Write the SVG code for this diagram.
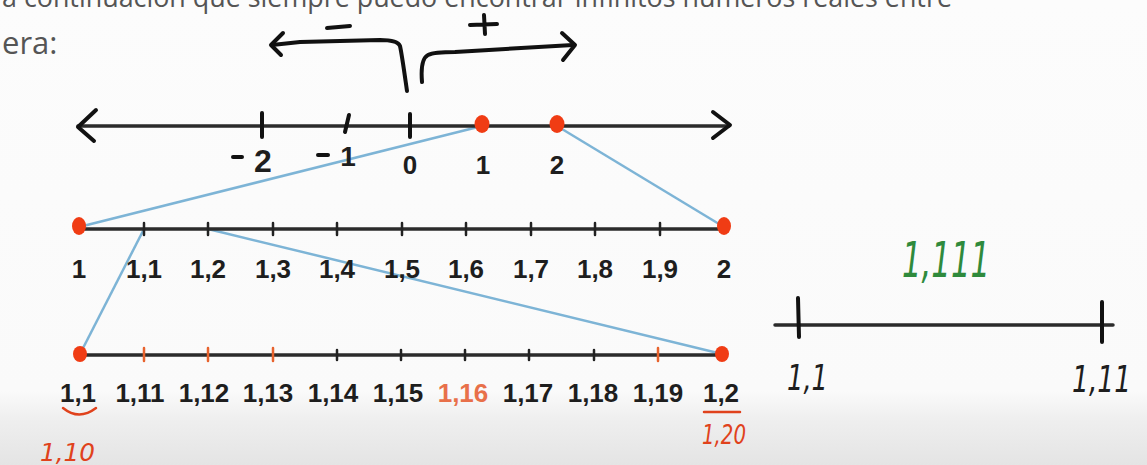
<svg xmlns="http://www.w3.org/2000/svg" width="1147" height="465" viewBox="0 0 1147 465">
<defs>
<linearGradient id="bg" x1="0" y1="0" x2="0" y2="1">
<stop offset="0" stop-color="#fcfcfc"/>
<stop offset="0.84" stop-color="#fafafa"/>
<stop offset="0.9" stop-color="#efefef"/>
<stop offset="1" stop-color="#e4e4e4"/>
</linearGradient>
<style>
.axis{stroke:#2b2b2b;stroke-width:3.5;fill:none;stroke-linecap:round}
.tick{stroke:#222;stroke-width:2.5;fill:none;stroke-linecap:round}
.otick{stroke:#e8632e;stroke-width:2.5;fill:none;stroke-linecap:round}
.hand{stroke:#111;stroke-width:4;fill:none;stroke-linecap:round;stroke-linejoin:round}
.redhand{stroke:#e0421c;stroke-width:2.5;fill:none;stroke-linecap:round}
.dot{fill:#f03c14}
.blue{stroke:#7db4d6;stroke-width:2.5;fill:none}
.lbl{font-family:"Liberation Sans",Arial,sans-serif;font-weight:bold;font-size:26px;fill:#1e1e1e;text-anchor:middle}
.hw{font-family:"DejaVu Sans","Liberation Sans",sans-serif;font-style:italic}
.para{font-family:"Open Sans","Liberation Sans",sans-serif;font-size:28px;fill:#555}
</style>
</defs>
<rect x="0" y="0" width="1147" height="465" fill="url(#bg)"/>

<g id="paragraph">
<text class="para" x="2" y="7" textLength="950" lengthAdjust="spacingAndGlyphs">a continuación que siempre puedo encontrar infinitos números reales entre</text>
<text class="para" x="2" y="54" style="font-size:31px">era:</text>
</g>

<g id="sign-arrows">
<path class="hand" d="M407,91 C404,70 402,55 400,46 C398,41 390,40 380,40 L300,42 L272,45"/>
<path class="hand" d="M283,33 L271,45 L281,55"/>
<path class="hand" d="M422,82 C421,70 422,58 428,55 C434,52 445,52 455,52 L573,45"/>
<path class="hand" d="M562,33 L575,45 L563,60"/>
<path class="hand" d="M327,28 L350,26"/>
<path class="hand" d="M470,25 L497,24 M484,15 L485,34"/>
</g>

<g id="connectors">
<line class="blue" x1="482" y1="126" x2="79" y2="227"/>
<line class="blue" x1="557" y1="126" x2="724" y2="227"/>
<line class="blue" x1="144" y1="229" x2="80" y2="354"/>
<line class="blue" x1="208" y1="229" x2="722" y2="354"/>
</g>

<g id="axis-integers">
<line class="axis" x1="78" y1="126" x2="729" y2="126"/>
<path class="hand" d="M96,110 L78,127 L94,141"/>
<path class="hand" d="M713,112 L730,125 L713,138"/>
<path class="hand" d="M262,113 L262,137"/>
<path class="hand" d="M349,115 L345,132"/>
<path class="hand" d="M410,114 L410,137"/>
<ellipse class="dot" cx="482" cy="124" rx="7.5" ry="9"/>
<ellipse class="dot" cx="557" cy="124" rx="7.5" ry="9"/>
<path class="hand" d="M233,157 L242,157 M318,155 L328,155" stroke-width="3.5"/>
<text class="lbl" x="263" y="172" style="font-size:32px">2</text>
<text class="lbl" x="348" y="166" style="font-size:28px">1</text>
<text class="lbl" x="410" y="174">0</text>
<text class="lbl" x="483" y="174">1</text>
<text class="lbl" x="557" y="174">2</text>
</g>

<g id="axis-tenths">
<line class="axis" x1="79" y1="229" x2="724" y2="229"/>
<path class="tick" d="M144,223 V235 M208,223 V235 M273,223 V235 M337,223 V235 M402,223 V235 M466,223 V235 M531,223 V235 M595,223 V235 M660,223 V235"/>
<ellipse class="dot" cx="79" cy="226" rx="7" ry="9"/>
<ellipse class="dot" cx="724" cy="226" rx="7" ry="9"/>
<text class="lbl" x="79" y="278">1</text>
<text class="lbl" x="144" y="278">1,1</text>
<text class="lbl" x="208" y="278">1,2</text>
<text class="lbl" x="273" y="278">1,3</text>
<text class="lbl" x="337" y="278">1,4</text>
<text class="lbl" x="402" y="278">1,5</text>
<text class="lbl" x="466" y="278">1,6</text>
<text class="lbl" x="531" y="278">1,7</text>
<text class="lbl" x="595" y="278">1,8</text>
<text class="lbl" x="660" y="278">1,9</text>
<text class="lbl" x="724" y="278">2</text>
</g>

<g id="axis-hundredths">
<line class="axis" x1="80" y1="355" x2="722" y2="355"/>
<path class="otick" d="M144,348 V361 M208,348 V361 M273,348 V361 M658,348 V361"/>
<path class="tick" d="M337,350 V360 M401,350 V360 M465,350 V360 M529,350 V360 M594,350 V360"/>
<ellipse class="dot" cx="80" cy="354" rx="7" ry="8"/>
<ellipse class="dot" cx="722" cy="354" rx="7" ry="8"/>
<text class="lbl" x="78" y="402">1,1</text>
<text class="lbl" x="140" y="402">1,11</text>
<text class="lbl" x="204" y="402">1,12</text>
<text class="lbl" x="268" y="402">1,13</text>
<text class="lbl" x="333" y="402">1,14</text>
<text class="lbl" x="398" y="402">1,15</text>
<text class="lbl" x="463" y="402" style="fill:#e8704a">1,16</text>
<text class="lbl" x="528" y="402">1,17</text>
<text class="lbl" x="593" y="402">1,18</text>
<text class="lbl" x="658" y="402">1,19</text>
<text class="lbl" x="721" y="402">1,2</text>
<path class="redhand" d="M63,408 Q79,421 96,408"/>
<path class="redhand" d="M704,412 L740,412"/>
<text class="hw" x="40" y="461" font-size="24" fill="#e0421c" textLength="55" lengthAdjust="spacingAndGlyphs">1,10</text>
<text class="hw" x="702" y="444" font-size="26" fill="#e0421c" textLength="44" lengthAdjust="spacingAndGlyphs">1,20</text>
</g>

<g id="axis-zoom">
<text class="hw" x="902" y="277" font-size="50" fill="#2f8a3c" textLength="88" lengthAdjust="spacingAndGlyphs">1,111</text>
<line class="axis" x1="775" y1="325" x2="1113" y2="325"/>
<path class="hand" d="M798,298 L799,337 M1102,302 L1102,342" stroke-width="3"/>
<text class="hw" x="787" y="390" font-size="36" fill="#1e1e1e" textLength="41" lengthAdjust="spacingAndGlyphs">1,1</text>
<text class="hw" transform="translate(1072,392) scale(0.7,1)" x="0" y="0" font-size="38" fill="#1e1e1e">1,11</text>
</g>
</svg>
